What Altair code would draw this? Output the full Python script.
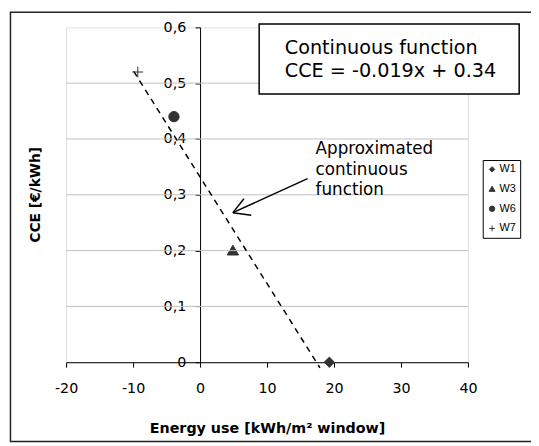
import altair as alt
import pandas as pd

# ---- data ----
series = ["W1", "W3", "W6", "W7"]
energy = [19.3, 4.9, -3.9, -9.3]
cce = [0.0, 0.2, 0.44, 0.52]

trend_x = [-9.9, 17.9]
trend_y = [0.521, -0.01]

arrow_x = [16.05, 4.9]
arrow_y = [0.329, 0.268]
head_x = [6.55, 7.65]
head_y = [0.293, 0.2635]

grid_values = [0.1, 0.2, 0.3, 0.4, 0.5]
x_ticks = [-20, -10, 0, 10, 20, 30, 40]
y_ticks = [0, 0.1, 0.2, 0.3, 0.4, 0.5, 0.6]

box_lines = ["Continuous function", "CCE = -0.019x + 0.34"]
note_lines = ["Approximated", "continuous", "function"]
note_pos = [17.25, 0.373]
x_title = "Energy use [kWh/m\u00b2 window]"
y_title = "CCE [\u20ac/kWh]"

FONT = "DejaVu Sans"
MARK = "#333333"
W, H = 408, 340
xscale = alt.Scale(domain=[-20, 40], nice=False, zero=False)
yscale = alt.Scale(domain=[0, 0.6], nice=False, zero=False)

pts = pd.DataFrame({"x": energy, "y": cce, "series": series})
trend = pd.DataFrame({"x": trend_x, "y": trend_y})
arrow = pd.DataFrame({"x": arrow_x, "y": arrow_y})
heads = pd.DataFrame({"x": [arrow_x[1]] * 2, "y": [arrow_y[1]] * 2,
                      "x2": head_x, "y2": head_y})
grid = pd.DataFrame({"y": grid_values})
one = pd.DataFrame({"a": [0]})

X = alt.X("x:Q", scale=xscale)
Y = alt.Y("y:Q", scale=yscale)

legend = alt.Legend(
    title=None, orient="none", legendX=423, legendY=134.7,
    strokeColor="black", fillColor="white", padding=4,
    labelFont="Liberation Sans", labelFontSize=11, labelColor="black",
    symbolSize=30, rowPadding=8, labelOffset=2, symbolStrokeWidth=1,
)

points = alt.Chart(pts).mark_point(
    strokeWidth=1, opacity=1, fillOpacity=1, size=110
).encode(
    x=alt.X("x:Q", scale=xscale, axis=alt.Axis(
        values=x_ticks, grid=False, title=x_title, domainColor="black",
        labelExpr="datum.value + ''",
        tickColor="black", tickSize=5, labelFont=FONT, labelFontSize=14.5,
        labelColor="black", labelPadding=15, labelFlush=False,
        titleFont=FONT, titleFontSize=14.5, titleFontWeight="bold",
        titleColor="black", titlePadding=27, domainWidth=1, tickWidth=1)),
    y=alt.Y("y:Q", scale=yscale, axis=alt.Axis(
        values=y_ticks, grid=False, title="", offset=-W / 3,
        labelExpr="datum.value == 0 ? '0' : replace(format(datum.value, '.1f'), '.', ',')",
        domainColor="black", tickColor="black", tickSize=5, labelFont=FONT,
        labelFontSize=14.5, labelColor="black", labelPadding=9.5,
        labelFlush=False, domainWidth=1, tickWidth=1)),
    shape=alt.Shape("series:N", scale=alt.Scale(
        domain=series,
        range=["M0,-1L1,0L0,1L-1,0Z", "M0,-1.05L1.1,0.85L-1.1,0.85Z",
               "circle", "M-1.05,0H1.05M0,-1.05V1.05"]),
        legend=legend),
    fill=alt.Fill("series:N", scale=alt.Scale(domain=series, range=[MARK] * 4),
                  legend=legend),
    stroke=alt.Stroke("series:N", scale=alt.Scale(domain=series, range=[MARK] * 4),
                      legend=legend),
)

grid_layer = alt.Chart(grid).mark_rule(color="#c0c0c0", strokeWidth=1).encode(y=Y)

outer = alt.Chart(one).mark_rect(fill="transparent", stroke="#222222", strokeWidth=1.5).encode(
    x=alt.value(-56.5), x2=alt.value(480), y=alt.value(-15.3), y2=alt.value(420.5)
)

box = alt.Chart(one).mark_rect(fill="white", stroke="black", strokeWidth=1.5).encode(
    x=alt.value(196), x2=alt.value(460), y=alt.value(-3.3), y2=alt.value(67.7)
)

box_text = alt.Chart(one).mark_text(
    text=box_lines, align="left", baseline="alphabetic", font=FONT,
    fontSize=19.5, lineHeight=23, color="black"
).encode(x=alt.value(222), y=alt.value(27.4))

trend_layer = alt.Chart(trend).mark_line(
    color="black", strokeDash=[6, 5], strokeWidth=1.5
).encode(x=X, y=Y)

arrow_layer = alt.Chart(arrow).mark_line(color="black", strokeWidth=1.5).encode(x=X, y=Y)

head_layer = alt.Chart(heads).mark_rule(color="black", strokeWidth=1.5).encode(
    x=X, y=Y, x2="x2:Q", y2="y2:Q"
)

note_layer = alt.Chart(pd.DataFrame({"x": [note_pos[0]], "y": [note_pos[1]]})).mark_text(
    text=note_lines, align="left", baseline="alphabetic", font=FONT,
    fontSize=17, lineHeight=21, color="black"
).encode(x=X, y=Y)

ytitle_layer = alt.Chart(one).mark_text(
    text=y_title, angle=270, align="center", baseline="middle", font=FONT,
    fontSize=14, fontWeight="bold", color="black"
).encode(x=alt.value(-31), y=alt.value(170))

chart = alt.layer(
    points, grid_layer, box, outer, trend_layer, arrow_layer, head_layer,
    box_text, note_layer, ytitle_layer
).properties(
    width=W, height=H,
    padding={"left": 59, "top": 16.3, "right": 64, "bottom": 81.7},
    autosize=alt.AutoSizeParams(type="none"),
).configure_view(stroke="#c0c0c0", strokeWidth=1).configure(background="white")

chart.save("out.html", embed_options={"renderer": "svg", "actions": False})
